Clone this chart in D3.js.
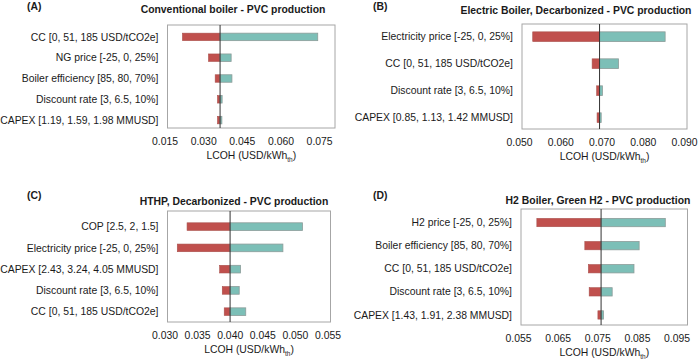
<!DOCTYPE html>
<html>
<head>
<meta charset="utf-8">
<script src="https://cdn.jsdelivr.net/npm/d3@7"></script>
<style>
  html, body { margin: 0; padding: 0; background: #ffffff; }
  svg { display: block; font-family: 'Liberation Sans', Arial, sans-serif; }
</style>
</head>
<body>
<div id="chart"></div>
<script>
(function () {
  // ---- data ----
  const panelLetters = ['(A)', '(B)', '(C)', '(D)'];
  const panelTitles = [
    'Conventional boiler - PVC production',
    'Electric Boiler, Decarbonized - PVC production',
    'HTHP, Decarbonized - PVC production',
    'H2 Boiler, Green H2 - PVC production',
  ];

  const aLabels = ['CC [0, 51, 185 USD/tCO2e]', 'NG price [-25, 0, 25%]', 'Boiler efficiency [85, 80, 70%]', 'Discount rate [3, 6.5, 10%]', 'CAPEX [1.19, 1.59, 1.98 MMUSD]'];
  const aLow = [0.0208, 0.0309, 0.0335, 0.0344, 0.0344];
  const aHigh = [0.0733, 0.0397, 0.0400, 0.0362, 0.0361];
  const aBase = 0.0354;
  const aTicks = [0.015, 0.030, 0.045, 0.060, 0.075];
  const aDomain = [0.015, 0.080];

  const bLabels = ['Electricity price [-25, 0, 25%]', 'CC [0, 51, 185 USD/tCO2e]', 'Discount rate [3, 6.5, 10%]', 'CAPEX [0.85, 1.13, 1.42 MMUSD]'];
  const bLow = [0.0526, 0.0670, 0.0681, 0.0682];
  const bHigh = [0.0847, 0.0734, 0.0695, 0.0692];
  const bBase = 0.0688;
  const bTicks = [0.050, 0.060, 0.070, 0.080, 0.090];
  const bDomain = [0.050, 0.090];

  const cLabels = ['COP [2.5, 2, 1.5]', 'Electricity price [-25, 0, 25%]', 'CAPEX [2.43, 3.24, 4.05 MMUSD]', 'Discount rate [3, 6.5, 10%]', 'CC [0, 51, 185 USD/tCO2e]'];
  const cLow = [0.0330, 0.0315, 0.0380, 0.0384, 0.0387];
  const cHigh = [0.0507, 0.0477, 0.0412, 0.0410, 0.0420];
  const cBase = 0.0396;
  const cTicks = [0.030, 0.035, 0.040, 0.045, 0.050, 0.055];
  const cDomain = [0.030, 0.055];

  const dLabels = ['H2 price [-25, 0, 25%]', 'Boiler efficiency [85, 80, 70%]', 'CC [0, 51, 185 USD/tCO2e]', 'Discount rate [3, 6.5, 10%]', 'CAPEX [1.43, 1.91, 2.38 MMUSD]'];
  const dLow = [0.0590, 0.0711, 0.0720, 0.0722, 0.0744];
  const dHigh = [0.0914, 0.0848, 0.0835, 0.0780, 0.0758];
  const dBase = 0.0752;
  const dTicks = [0.055, 0.065, 0.075, 0.085, 0.095];
  const dDomain = [0.055, 0.097];

  // ---- layout (pixels) ----
  const panels = [
    { letter: panelLetters[0], title: panelTitles[0], labels: aLabels, low: aLow, high: aHigh, base: aBase, ticks: aTicks, domain: aDomain,
      frame: { x0: 167.5, x1: 335, y0: 25, y1: 128 }, band: [26.5, 130.5], letterPos: [27, 10], titleX: 233, titleY: 13 },
    { letter: panelLetters[1], title: panelTitles[1], labels: bLabels, low: bLow, high: bHigh, base: bBase, ticks: bTicks, domain: bDomain,
      frame: { x0: 522, x1: 687, y0: 24, y1: 129 }, band: [23.2, 131.2], letterPos: [373, 10], titleX: 576, titleY: 14 },
    { letter: panelLetters[2], title: panelTitles[2], labels: cLabels, low: cLow, high: cHigh, base: cBase, ticks: cTicks, domain: cDomain,
      frame: { x0: 167.5, x1: 330.5, y0: 211, y1: 322 }, band: [216, 322.3], letterPos: [27, 199], titleX: 234, titleY: 205 },
    { letter: panelLetters[3], title: panelTitles[3], labels: dLabels, low: dLow, high: dHigh, base: dBase, ticks: dTicks, domain: dDomain,
      frame: { x0: 521, x1: 687.5, y0: 209, y1: 325 }, band: [211, 326.5], letterPos: [373, 199], titleX: 598, titleY: 204 },
  ];

  const width = 700;
  const height = 359;
  const fontSize = 10.4;
  const textColor = '#1a1a1a';
  const lowColor = '#c0504d';
  const highColor = '#7cbfb7';

  const formatTick = d3.format('.3f');

  const svg = d3.select('#chart')
    .append('svg')
    .attr('width', width)
    .attr('height', height);

  panels.forEach((p) => {
    const g = svg.append('g');
    const rows = p.labels.map((label, i) => ({ label, low: p.low[i], high: p.high[i] }));

    const xScale = d3.scaleLinear()
      .domain(p.domain)
      .range([p.frame.x0, p.frame.x1]);

    const yScale = d3.scaleBand()
      .domain(p.labels)
      .range(p.band)
      .paddingInner(0.64)
      .paddingOuter(0.32);

    // frame
    g.append('rect')
      .attr('x', p.frame.x0)
      .attr('y', p.frame.y0)
      .attr('width', p.frame.x1 - p.frame.x0)
      .attr('height', p.frame.y1 - p.frame.y0)
      .attr('fill', 'none')
      .attr('stroke', '#a6a6a6')
      .attr('stroke-width', 1);

    // low side bars (red)
    g.append('g')
      .selectAll('rect')
      .data(rows)
      .join('rect')
      .attr('x', (d) => xScale(d.low))
      .attr('y', (d) => yScale(d.label))
      .attr('width', (d) => xScale(p.base) - xScale(d.low))
      .attr('height', yScale.bandwidth())
      .attr('fill', lowColor)
      .attr('stroke', '#a9504c')
      .attr('stroke-width', 0.6);

    // high side bars (teal)
    g.append('g')
      .selectAll('rect')
      .data(rows)
      .join('rect')
      .attr('x', xScale(p.base))
      .attr('y', (d) => yScale(d.label))
      .attr('width', (d) => xScale(d.high) - xScale(p.base))
      .attr('height', yScale.bandwidth())
      .attr('fill', highColor)
      .attr('stroke', '#8c9c99')
      .attr('stroke-width', 0.8);

    // base case line
    g.append('line')
      .attr('x1', xScale(p.base))
      .attr('x2', xScale(p.base))
      .attr('y1', p.frame.y0)
      .attr('y2', p.frame.y1)
      .attr('stroke', '#333333')
      .attr('stroke-width', 1);

    // x axis
    const xAxis = d3.axisBottom(xScale)
      .tickValues(p.ticks)
      .tickSize(0)
      .tickPadding(10)
      .tickFormat(formatTick);

    const axisG = g.append('g')
      .attr('transform', `translate(0,${p.frame.y1})`)
      .call(xAxis);
    axisG.select('.domain').remove();
    axisG.selectAll('text')
      .attr('dx', -3)
      .attr('font-size', fontSize)
      .attr('font-family', "'Liberation Sans', Arial, sans-serif")
      .attr('fill', textColor);

    // category labels
    g.append('g')
      .selectAll('text')
      .data(rows)
      .join('text')
      .attr('x', p.frame.x0 - 9)
      .attr('y', (d) => yScale(d.label) + yScale.bandwidth() / 2)
      .attr('dy', '0.35em')
      .attr('text-anchor', 'end')
      .attr('font-size', fontSize)
      .attr('fill', textColor)
      .text((d) => d.label);

    // x axis title with subscript
    const axisTitle = g.append('text')
      .attr('x', (p.frame.x0 + p.frame.x1) / 2)
      .attr('y', p.frame.y1 + 31)
      .attr('text-anchor', 'middle')
      .attr('font-size', fontSize)
      .attr('fill', textColor);
    axisTitle.append('tspan').text('LCOH (USD/kWh');
    axisTitle.append('tspan')
      .attr('font-size', 6.5)
      .attr('dy', 2.5)
      .text('th');
    axisTitle.append('tspan')
      .attr('dy', -2.5)
      .text(')');

    // panel title
    g.append('text')
      .attr('x', p.titleX)
      .attr('y', p.titleY)
      .attr('text-anchor', 'middle')
      .attr('font-size', 10.4)
      .attr('font-weight', 'bold')
      .attr('fill', textColor)
      .text(p.title);

    // panel letter
    g.append('text')
      .attr('x', p.letterPos[0])
      .attr('y', p.letterPos[1])
      .attr('font-size', 10.4)
      .attr('font-weight', 'bold')
      .attr('fill', textColor)
      .text(p.letter);
  });
})();
</script>
</body>
</html>
